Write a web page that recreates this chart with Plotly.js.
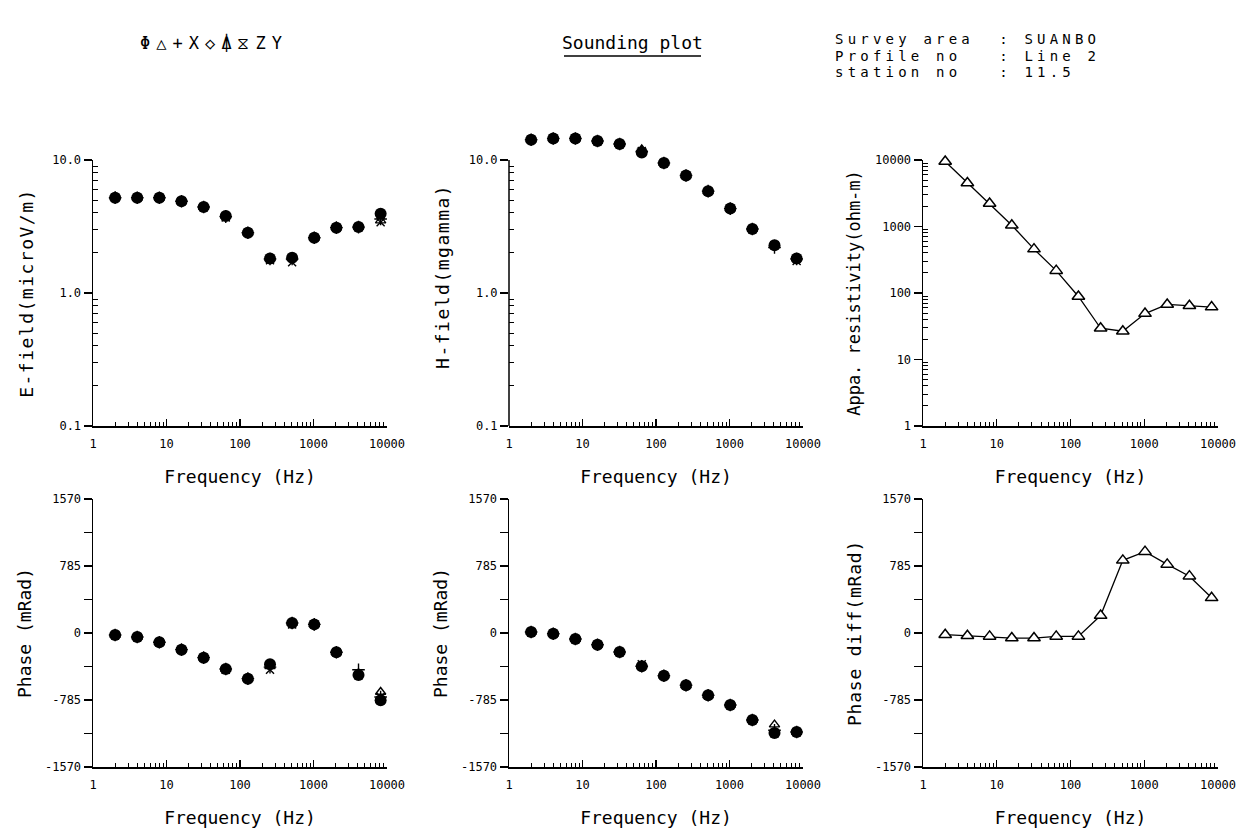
<!DOCTYPE html>
<html><head><meta charset="utf-8">
<script src="https://cdn.plot.ly/plotly-3.0.1.min.js"></script>
<style>body{margin:0;background:#fff}</style>
</head><body><div id="chart" style="width:1249px;height:832px"></div>
<script>
// ---- data ----
const freq = [2, 4, 8, 16, 32, 64, 128, 256, 512, 1024, 2048, 4096, 8192];

const eCircle   = [5.2, 5.2, 5.2, 4.9, 4.43, 3.8, 2.84, 1.82, 1.84, 2.6, 3.1, 3.13, 3.95];
const eTriangle = [5.3, 5.2, 5.2, 4.9, 4.43, 3.8, 2.84, 1.82, 1.84, 2.6, 3.1, 3.15, 3.5];
const ePlus     = [5.2, 5.2, 5.2, 4.9, 4.43, 3.75, 2.84, 1.8, 1.8, 2.6, 3.1, 3.13, 3.6];
const eX        = [5.2, 5.2, 5.2, 4.9, 4.43, 3.7, 2.84, 1.76, 1.7, 2.6, 3.1, 3.13, 3.4];

const hCircle   = [14.2, 14.5, 14.5, 13.9, 13.2, 11.4, 9.5, 7.64, 5.83, 4.31, 3.03, 2.29, 1.82];
const hTriangle = [14.2, 14.5, 14.5, 13.9, 13.2, 12.0, 9.5, 7.64, 5.83, 4.31, 3.03, 2.29, 1.82];
const hPlus     = [14.2, 14.5, 14.5, 13.9, 13.2, 11.6, 9.5, 7.64, 5.83, 4.31, 3.03, 2.2, 1.8];
const hX        = [14.2, 14.5, 14.5, 13.9, 13.2, 11.7, 9.5, 7.64, 5.83, 4.31, 3.03, 2.29, 1.74];

const rho = [9490, 4510, 2220, 1042, 457, 217, 88.7, 29.5, 26.6, 49, 67.3, 64.4, 61.4];

const pCircle   = [-23, -47, -109, -195, -289, -422, -535, -367, 117, 101, -226, -492, -789];
const pTriangle = [-23, -47, -109, -195, -289, -422, -535, -390, 117, 101, -226, -470, -691];
const pPlus     = [-23, -47, -109, -195, -289, -422, -535, -400, 117, 101, -226, -430, -750];
const pX        = [-23, -47, -109, -195, -289, -430, -535, -430, 100, 101, -226, -492, -750];

const qCircle   = [12, -8, -70, -137, -223, -390, -500, -613, -730, -843, -1019, -1172, -1160];
const qTriangle = [12, -8, -70, -137, -223, -380, -500, -613, -730, -843, -1019, -1074, -1160];
const qPlus     = [12, -8, -70, -137, -223, -390, -500, -613, -730, -843, -1019, -1140, -1160];
const qX        = [12, -8, -70, -137, -223, -365, -500, -613, -730, -843, -1019, -1172, -1160];

const phaseDiff = [-20, -32, -40, -59, -59, -40, -40, 204, 851, 953, 804, 666, 412];

const freqTicks = [1, 10, 100, 1000, 10000];
const freqTickText = ['1', '10', '100', '1000', '10000'];
const fieldTicks = [0.1, 1, 10];
const fieldTickText = ['0.1', '1.0', '10.0'];
const rhoTicks = [1, 10, 100, 1000, 10000];
const rhoTickText = ['1', '10', '100', '1000', '10000'];
const phaseTicks = [1570, 785, 0, -785, -1570];
const phaseTickText = ['1570', '785', '0', '-785', '-1570'];
const phaseMinor = [1177.5, 392.5, -392.5, -1177.5];

const symbolRow = 'Φ△+X◇⍋⧖ZY';
const infoLines = ['Survey area  : SUANBO', 'Profile no   : Line 2', 'station no   : 11.5'];

// ---- minor tick positions for log axes ----
function logMinor(d0, d1) {
  const out = [];
  for (let d = d0; d < d1; d++) for (let k = 2; k <= 9; k++) out.push(k * Math.pow(10, d));
  return out;
}

const FONT = 'DejaVu Sans Mono, monospace';
const W = 1249, H = 832;
const px = (a, b) => [a / W, b / W];
const py = (top, bot) => [1 - bot / H, 1 - top / H];

const colX = [px(93, 387), px(509, 803), px(923, 1218)];
const rowY = [py(160, 426), py(499, 767)];
// H-field: data rise above 10, so the range is extended upward while 10 stays at the same pixel
const hExtra = 0.25;
const hDomain = py(160 - hExtra * 133, 426);

function xAx(col, anchor) {
  return {
    type: 'log', range: [0, 4], domain: colX[col], anchor: anchor,
    showline: true, linecolor: '#000', linewidth: 1.5, mirror: false,
    showgrid: false, zeroline: false,
    ticks: 'inside', ticklen: 7, tickwidth: 1.2, tickcolor: '#000',
    tickmode: 'array', tickvals: freqTicks, ticktext: freqTickText,
    ticklabelstandoff: 6,
    minor: { tickmode: 'array', tickvals: logMinor(0, 4), ticks: 'inside', ticklen: 4, tickwidth: 1, tickcolor: '#000', showgrid: false },
    tickfont: { family: FONT, size: 12, color: '#000' },
    title: { text: 'Frequency (Hz)', font: { family: FONT, size: 18, color: '#000' }, standoff: 20 },
    automargin: false, fixedrange: true
  };
}
function yLog(domain, anchor, range, tv, tt, minorVals, title, tsize, standoff, showline) {
  return {
    type: 'log', range: range, domain: domain, anchor: anchor,
    showline: showline, linecolor: '#000', linewidth: 1.5, mirror: false,
    showgrid: false, zeroline: false,
    ticks: 'outside', ticklen: 8, tickwidth: 1.2, tickcolor: '#000',
    tickmode: 'array', tickvals: tv, ticktext: tt,
    minor: { tickmode: 'array', tickvals: minorVals, ticks: 'inside', ticklen: 5, tickwidth: 1, tickcolor: '#000', showgrid: false },
    tickfont: { family: FONT, size: 12, color: '#000' },
    title: { text: title, font: { family: FONT, size: tsize, color: '#000' }, standoff: standoff },
    automargin: false, fixedrange: true
  };
}
function yPhase(anchor, title, standoff) {
  return {
    type: 'linear', range: [-1570, 1570], domain: rowY[1], anchor: anchor,
    showline: true, linecolor: '#000', linewidth: 1.5, mirror: false,
    showgrid: false, zeroline: false,
    ticks: 'outside', ticklen: 8, tickwidth: 1.2, tickcolor: '#000',
    tickmode: 'array', tickvals: phaseTicks, ticktext: phaseTickText,
    minor: { tickmode: 'array', tickvals: phaseMinor, ticks: 'outside', ticklen: 8, tickwidth: 1, tickcolor: '#000', showgrid: false },
    tickfont: { family: FONT, size: 12, color: '#000' },
    title: { text: title, font: { family: FONT, size: 18, color: '#000' }, standoff: standoff },
    automargin: false, fixedrange: true
  };
}

function markerSet(xa, ya, circ, tri, plus, x) {
  const base = { x: freq, mode: 'markers', xaxis: xa, yaxis: ya, cliponaxis: false, showlegend: false, hoverinfo: 'skip' };
  return [
    Object.assign({}, base, { y: circ, marker: { symbol: 'circle', size: 12, color: '#000', line: { width: 0 } } }),
    Object.assign({}, base, { y: tri, marker: { symbol: 'triangle-up-open', size: 9, color: '#000', line: { width: 1.4 } } }),
    Object.assign({}, base, { y: plus, marker: { symbol: 'cross-thin-open', size: 9, color: '#000', line: { width: 1.4 } } }),
    Object.assign({}, base, { y: x, marker: { symbol: 'x-thin-open', size: 8, color: '#000', line: { width: 1.4 } } })
  ];
}
function lineSet(xa, ya, vals) {
  return [{
    x: freq, y: vals, mode: 'lines+markers', xaxis: xa, yaxis: ya, cliponaxis: false, showlegend: false, hoverinfo: 'skip',
    line: { color: '#000', width: 1.3 },
    marker: { symbol: 'triangle-up', size: 11, color: '#fff', line: { color: '#000', width: 1.5 } }
  }];
}

const data = [].concat(
  markerSet('x', 'y', eCircle, eTriangle, ePlus, eX),
  markerSet('x2', 'y2', hCircle, hTriangle, hPlus, hX),
  lineSet('x3', 'y3', rho),
  markerSet('x4', 'y4', pCircle, pTriangle, pPlus, pX),
  markerSet('x5', 'y5', qCircle, qTriangle, qPlus, qX),
  lineSet('x6', 'y6', phaseDiff)
);

const ann = (x, y, text, size, extra) => Object.assign({
  xref: 'paper', yref: 'paper', x: x / W, y: 1 - y / H, text: text, showarrow: false,
  font: { family: FONT, size: size, color: '#000' }, xanchor: 'left', yanchor: 'middle'
}, extra || {});

const layout = {
  width: W, height: H, margin: { l: 0, r: 0, t: 0, b: 0 },
  paper_bgcolor: '#fff', plot_bgcolor: 'rgba(0,0,0,0)', showlegend: false,
  xaxis: xAx(0, 'y'), yaxis: yLog(rowY[0], 'x', [-1, 1], fieldTicks, fieldTickText, logMinor(-1, 1), 'E-field(microV/m)', 18, 14, true),
  xaxis2: xAx(1, 'y2'), yaxis2: yLog(hDomain, 'x2', [-1, 1 + hExtra], fieldTicks, fieldTickText, logMinor(-1, 1), 'H-field(mgamma)', 18, 14, false),
  xaxis3: xAx(2, 'y3'), yaxis3: yLog(rowY[0], 'x3', [0, 4], rhoTicks, rhoTickText, logMinor(0, 4), 'Appa. resistivity(ohm-m)', 17, 10, true),
  xaxis4: xAx(0, 'y4'), yaxis4: yPhase('x4', 'Phase (mRad)', 8),
  xaxis5: xAx(1, 'y5'), yaxis5: yPhase('x5', 'Phase (mRad)', 8),
  xaxis6: xAx(2, 'y6'), yaxis6: yPhase('x6', 'Phase diff(mRad)', 8),
  annotations: [
    ann(632, 43, 'Sounding plot', 18, { xanchor: 'center' }),
    ann(214, 43, symbolRow, 17, { xanchor: 'center' }),
    ann(833, 29, infoLines.join('<br>'), 14, { yanchor: 'top', align: 'left' })
  ],
  shapes: [
    { type: 'line', xref: 'paper', yref: 'paper', x0: 564 / W, x1: 701 / W, y0: 1 - 56 / H, y1: 1 - 56 / H, line: { color: '#000', width: 1.3 } },
    // H-field y axis line, drawn only from 0.1 up to 10
    { type: 'line', xref: 'x2 domain', yref: 'y2 domain', x0: 0, x1: 0, y0: 0, y1: 2 / (2 + hExtra), line: { color: '#000', width: 1.5 } }
  ]
};

Plotly.newPlot('chart', data, layout, { staticPlot: true, displayModeBar: false }).then(function () {
  document.querySelectorAll('.annotation-text').forEach(function (t) {
    const s = t.textContent;
    if (s.indexOf('Φ') === 0) t.style.letterSpacing = '6px';
    else if (s.indexOf('Survey') === 0) {
      t.style.letterSpacing = '4.2px';
      t.querySelectorAll('tspan.line').forEach(function (ln, k) { ln.setAttribute('dy', (k * 16.5) + 'px'); });
    }
  });
  document.querySelectorAll('text[class^="y"][class$="title"]').forEach(function (t) {
    const s = t.textContent;
    if (s.indexOf('field') > 0) t.style.letterSpacing = '1.5px';
    else if (s.indexOf('diff') > 0) t.style.letterSpacing = '0.8px';
  });
});
</script></body></html>
